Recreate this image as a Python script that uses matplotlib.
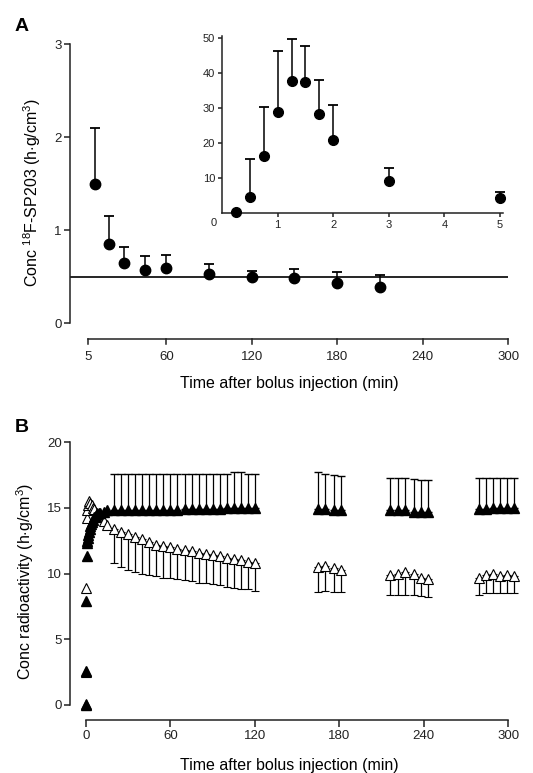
import numpy as np
import matplotlib
matplotlib.use("Agg")
import matplotlib.pyplot as plt

plt.rcParams['font.family'] = ['Liberation Sans', 'DejaVu Sans']
plt.rcParams['mathtext.fontset'] = 'custom'
plt.rcParams['mathtext.rm'] = 'Liberation Sans'
plt.rcParams['mathtext.it'] = 'Liberation Sans'

# ---- Panel A: plasma concentration (main, 5-300 min) ----
a_time = [10, 20, 30, 45, 60, 90, 120, 150, 180, 210]
a_conc = [1.50, 0.85, 0.65, 0.57, 0.60, 0.53, 0.50, 0.49, 0.43, 0.39]
a_err = [0.60, 0.30, 0.17, 0.15, 0.13, 0.11, 0.06, 0.09, 0.12, 0.13]
a_ref = 0.5

# inset: first 5 min
in_time = [0.25, 0.5, 0.75, 1.0, 1.25, 1.5, 1.75, 2.0, 3.0, 5.0]
in_conc = [0.3, 4.5, 16.3, 28.7, 37.6, 37.3, 28.2, 20.8, 9.0, 4.2]
in_err = [0.0, 11.0, 14.0, 17.5, 12.1, 10.3, 9.8, 10.1, 3.7, 1.8]

# ---- Panel B: radioactivity, filled and open triangles ----
b_early_t = [0.1, 0.2, 0.3, 0.5, 0.75, 1, 1.25, 1.5, 2, 2.5, 3, 3.5, 4, 5,
             6, 7, 8, 9, 10, 12.5, 15]
b_early_filled = [0.0, 2.6, 7.9, 11.3, 12.3, 12.5, 12.7, 12.9, 13.2, 13.4,
                  13.6, 13.8, 13.9, 14.1, 14.3, 14.4, 14.5, 14.6, 14.6, 14.7,
                  14.8]
b_early_open_t = [0.1, 0.2, 0.3, 0.5, 1, 1.5, 2, 3, 4, 5, 6, 8, 10, 12.5, 15]
b_early_open = [0.1, 2.5, 8.9, 14.2, 14.8, 15.2, 15.5, 15.4, 15.2, 15.0,
                14.9, 14.6, 14.3, 14.0, 13.7]

b_time = [20, 25, 30, 35, 40, 45, 50, 55, 60, 65, 70, 75, 80, 85, 90, 95,
          100, 105, 110, 115, 120,
          165, 170, 176, 181,
          216, 222, 227, 233, 238, 243,
          279, 284, 289, 294, 299, 304]
b_filled = [14.8, 14.8, 14.8, 14.8, 14.8, 14.8, 14.8, 14.8, 14.8, 14.8, 14.9,
            14.9, 14.9, 14.9, 14.9, 14.9, 15.0, 15.0, 15.0, 15.0, 15.0,
            14.9, 14.9, 14.8, 14.8,
            14.8, 14.8, 14.8, 14.7, 14.7, 14.7,
            14.9, 14.9, 15.0, 15.0, 15.0, 15.0]
b_filled_err = [2.8, 2.8, 2.8, 2.8, 2.8, 2.8, 2.8, 2.8, 2.8, 2.8, 2.7,
                2.7, 2.7, 2.7, 2.7, 2.7, 2.6, 2.7, 2.7, 2.6, 2.6,
                2.8, 2.7, 2.7, 2.6,
                2.5, 2.5, 2.5, 2.5, 2.4, 2.4,
                2.4, 2.4, 2.3, 2.3, 2.3, 2.3]
b_open = [13.4, 13.2, 13.0, 12.8, 12.6, 12.4, 12.2, 12.1, 12.0, 11.9, 11.8,
          11.7, 11.6, 11.5, 11.4, 11.3, 11.2, 11.1, 11.0, 10.9, 10.8,
          10.5, 10.6, 10.4, 10.3,
          9.9, 10.0, 10.1, 10.0, 9.7, 9.6,
          9.7, 9.9, 10.0, 9.8, 9.9, 9.8]
b_open_err = [2.6, 2.7, 2.7, 2.7, 2.6, 2.5, 2.4, 2.4, 2.3, 2.3, 2.3,
              2.3, 2.3, 2.2, 2.2, 2.2, 2.2, 2.2, 2.2, 2.1, 2.1,
              1.9, 1.9, 1.8, 1.7,
              1.5, 1.6, 1.7, 1.6, 1.4, 1.4,
              1.3, 1.4, 1.5, 1.3, 1.4, 1.3]

fig = plt.figure(figsize=(5.33, 7.73), dpi=100)
axc = '#222222'


def style(ax, xb, yb):
    ax.spines['top'].set_visible(False)
    ax.spines['right'].set_visible(False)
    ax.spines['left'].set_bounds(*yb)
    ax.spines['bottom'].set_bounds(*xb)
    for s in ('left', 'bottom'):
        ax.spines[s].set_linewidth(1.1)
        ax.spines[s].set_color(axc)
    ax.tick_params(colors=axc, width=1.1, length=4, labelsize=9.5, pad=2)


# ---- Panel A ----
axA = fig.add_axes([0.1313, 0.560, 0.822, 0.383])
axA.axhline(a_ref, color='black', lw=1.2, zorder=1)
axA.errorbar(a_time, a_conc, yerr=[np.zeros(len(a_err)), a_err], fmt='o',
             color='black', ms=7.5, elinewidth=1.1, capsize=3.6,
             capthick=1.3, zorder=3)
axA.set_xlim(-7.6, 300)
axA.set_ylim(-0.18, 3.0)
axA.set_xticks([5, 60, 120, 180, 240, 300])
axA.set_yticks([0, 1, 2, 3])
style(axA, (5, 300), (0, 3))
axA.spines['bottom'].set_visible(False)
# detached x axis line under the plot
axA.plot([5, 300], [-0.17, -0.17], color=axc, lw=1.1, clip_on=False)
axA.tick_params(axis='x', length=0, pad=8)
for t in [5, 60, 120, 180, 240, 300]:
    axA.plot([t, t], [-0.17, -0.22], color=axc, lw=1.1, clip_on=False)
axA.set_xlabel('Time after bolus injection (min)', fontsize=11.5, labelpad=9)
axA.set_ylabel(r'Conc $^{18}$F-SP203 (h$\cdot$g/cm$^{3}$)', fontsize=11.5,
               labelpad=8)

# inset
axI = fig.add_axes([0.4165, 0.7245, 0.527, 0.229])
axI.errorbar(in_time, in_conc, yerr=[np.zeros(len(in_err)), in_err], fmt='o',
             color='black', ms=7, elinewidth=1.1, capsize=3.6, capthick=1.3,
             clip_on=False, zorder=3)
axI.set_xlim(0, 5.05)
axI.set_ylim(0, 50.5)
axI.set_xticks([1, 2, 3, 4, 5])
axI.set_yticks([10, 20, 30, 40, 50])
style(axI, (0, 5.05), (0, 50.5))
axI.tick_params(labelsize=8, length=3)
axI.text(-0.1, -1.5, '0', fontsize=8, color=axc, ha='right', va='top')

# ---- Panel B ----
axB = fig.add_axes([0.1313, 0.0686, 0.822, 0.3594])
axB.errorbar(b_time, b_open, yerr=[b_open_err, np.zeros(len(b_open_err))],
             fmt='^', color='black', mfc='white', mec='black', mew=0.8, ms=7,
             elinewidth=0.9, capsize=2.6, capthick=1.0, clip_on=False, zorder=3)
axB.errorbar(b_time, b_filled, yerr=[np.zeros(len(b_filled_err)), b_filled_err],
             fmt='^', color='black', ms=7, elinewidth=0.9, capsize=2.6,
             capthick=1.0, clip_on=False, zorder=3)
axB.plot(b_early_open_t, b_early_open, '^', mfc='white', mec='black', mew=0.8,
         ms=7, ls='none', clip_on=False, zorder=4)
axB.plot(b_early_t, b_early_filled, '^', color='black', ms=7, ls='none',
         clip_on=False, zorder=5)
axB.set_xlim(-11.4, 300)
axB.set_ylim(-1.14, 20)
axB.set_xticks([0, 60, 120, 180, 240, 300])
axB.set_yticks([0, 5, 10, 15, 20])
style(axB, (0, 300), (0, 20))
axB.tick_params(axis='x', length=5)
axB.set_xlabel('Time after bolus injection (min)', fontsize=11.5, labelpad=12)
axB.set_ylabel(r'Conc radioactivity (h$\cdot$g/cm$^{3}$)', fontsize=11.5,
               labelpad=8)

fig.text(0.028, 0.977, 'A', fontsize=14, fontweight='bold', va='top')
fig.text(0.028, 0.458, 'B', fontsize=14, fontweight='bold', va='top')

fig.savefig('out.png', dpi=100)
